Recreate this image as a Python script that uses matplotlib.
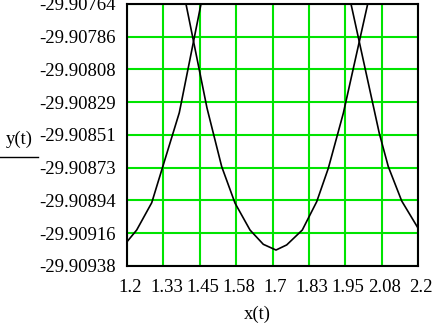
import numpy as np
import matplotlib
matplotlib.use("Agg")
import matplotlib.pyplot as plt
from matplotlib.lines import Line2D
from matplotlib.transforms import ScaledTranslation

# tick labels as printed on the chart
xlabels = ["1.2", "1.33", "1.45", "1.58", "1.7", "1.83", "1.95", "2.08", "2.2"]
ylabels = ["-29.90938", "-29.90916", "-29.90894", "-29.90873", "-29.90851",
           "-29.90829", "-29.90808", "-29.90786", "-29.90764"]

# curve pieces (x(t), y(t))
x_left = [1.2, 1.2333, 1.2849, 1.3797, 1.4543]
y_left = [-29.909219, -29.909141, -29.908960, -29.908362, -29.90764]

x_mid = [1.4027, 1.4749, 1.5254, 1.5711, 1.6227, 1.6684, 1.7120, 1.7488,
         1.8024, 1.8519, 1.8918, 1.9433, 2.0271]
y_mid = [-29.90764, -29.908331, -29.908720, -29.908962, -29.909141, -29.909236,
         -29.909274, -29.909240, -29.909141, -29.908953, -29.908731, -29.908366,
         -29.90764]

x_right = [1.9698, 2.0670, 2.0979, 2.1440, 2.2]
y_right = [-29.90764, -29.908499, -29.908720, -29.908948, -29.909128]

xmin, xmax = 1.2, 2.2
ymin, ymax = -29.90938, -29.90764

plt.rcParams['font.family'] = ['Liberation Serif', 'DejaVu Serif']

fig = plt.figure(figsize=(4.32, 3.23), dpi=100)
ax = fig.add_axes([127/432, 1-266/323, 291/432, 262/323])

xt = np.linspace(xmin, xmax, 9)
yt = np.linspace(ymin, ymax, 9)
ax.set_xlim(xmin, xmax)
ax.set_ylim(ymin, ymax)
ax.set_xticks(xt)
ax.set_xticklabels(xlabels)
ax.set_yticks(yt)
ax.set_yticklabels(ylabels)
ax.tick_params(length=0, labelsize=13.5, colors='black')
ax.tick_params(axis='x', pad=9)
ax.tick_params(axis='y', pad=8)

# mathcad draws the x labels a bit to the right of the grid lines
shift = ScaledTranslation(3/100, 0, fig.dpi_scale_trans)
for lab in ax.get_xticklabels():
    lab.set_transform(lab.get_transform() + shift)

ax.grid(True, color='#00e400', linewidth=1.5)
ax.set_axisbelow(True)
for s in ax.spines.values():
    s.set_linewidth(1.5)
    s.set_color('black')
    s.set_zorder(5)

for xs, ys in [(x_left, y_left), (x_mid, y_mid), (x_right, y_right)]:
    ax.plot(xs, ys, color='black', linewidth=1.2, zorder=4)

fig.text(257/432, 1-314/323, "x(t)", ha='center', va='center', fontsize=13.5)
fig.text(19/432, 1-139/323, "y(t)", ha='center', va='center', fontsize=13.5)
fig.add_artist(Line2D([0, 38/432], [1-157/323, 1-157/323], color='black',
                      linewidth=1.0, transform=fig.transFigure))

fig.savefig("out.png", dpi=100)
